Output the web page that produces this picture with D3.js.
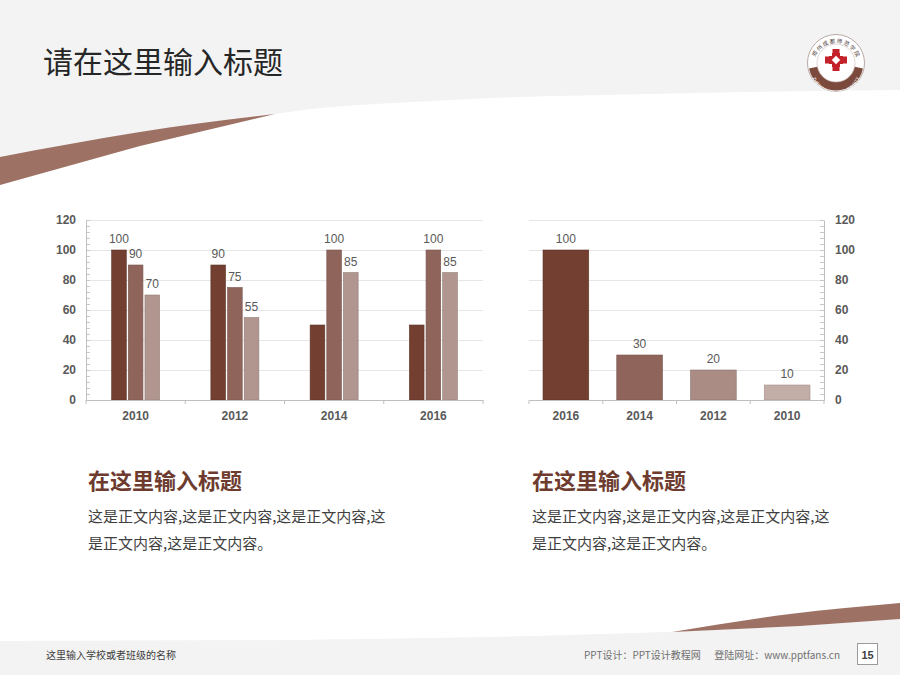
<!DOCTYPE html>
<html>
<head>
<meta charset="utf-8">
<script src="https://cdn.jsdelivr.net/npm/d3@7"></script>
<style>
  body { margin: 0; background: #fff; }
  svg { display: block; }
  text { font-family: "Liberation Sans", Arial, sans-serif; }
  .cjk { font-family: "Noto Sans CJK SC", "Noto Sans", sans-serif; }
</style>
</head>
<body>
<div id="chart"></div>
<script>
// Data
const leftCats = ['2010', '2012', '2014', '2016'];
const seriesA = [100, 90, 50, 50];
const seriesB = [90, 75, 100, 100];
const seriesC = [70, 55, 85, 85];
// which values get a data label (series A has none on 2014 / 2016)
const labelsA = ['100', '90', '', ''];
const labelsB = ['90', '75', '100', '100'];
const labelsC = ['70', '55', '85', '85'];

const rightCats = ['2016', '2014', '2012', '2010'];
const rightVals = [100, 30, 20, 10];

const yTicks = [0, 20, 40, 60, 80, 100, 120];
const yMinor = d3.range(0, 121, 4);

const seriesColors = ['#723f31', '#8f655b', '#b0968e'];
const rightColors = ['#723f31', '#8f655b', '#aa8c84', '#c3ada7'];

const W = 900, H = 675;

const svg = d3.select('#chart')
  .append('svg')
  .attr('width', W)
  .attr('height', H);

// Background: grey page with white body cut out by curves
svg.append('rect').attr('width', W).attr('height', H).attr('fill', '#f3f3f3');

const curve = d3.line().curve(d3.curveMonotoneX);
const topEdge = [[0, 185], [140, 146], [275, 114], [450, 100], [650, 94], [900, 90]];
const botEdge = [[0, 641], [300, 640], [500, 637], [673, 632], [800, 626], [900, 619]];

svg.append('path')
  .attr('d', curve(topEdge) + 'L' + botEdge.slice().reverse().map(p => p.join(',')).join('L') + 'Z')
  .attr('fill', '#ffffff');
// redraw the lower edge smoothly
svg.append('path')
  .attr('d', curve(botEdge) + 'L900,675L0,675Z')
  .attr('fill', '#f3f3f3');

// top swoosh
const swTop = [[0, 157], [140, 132], [275, 114]];
const swBot = [[0, 185], [140, 146], [275, 114]];
svg.append('path')
  .attr('d', curve(swTop) + 'L' + swBot.slice().reverse().map(p => p.join(',')).join('L') + 'Z')
  .attr('fill', '#9d7265');

// bottom swoosh
const sbTop = [[672, 632], [790, 614], [900, 603]];
svg.append('path')
  .attr('d', curve(sbTop) + 'L900,619' + 'L800,626L672,632Z')
  .attr('fill', '#9d7265');

// Header title
svg.append('text')
  .attr('class', 'cjk')
  .attr('x', 43).attr('y', 73)
  .attr('font-size', 30)
  .attr('fill', '#262626')
  .text('请在这里输入标题');

// Logo
const logo = svg.append('g').attr('transform', 'translate(836,63)');
logo.append('circle').attr('r', 28.5).attr('fill', '#fff').attr('stroke', '#b9aaa4').attr('stroke-width', 1);
logo.append('path')
  .attr('d', d3.arc().innerRadius(19).outerRadius(27.5).startAngle(Math.PI / 2 + 0.2).endAngle(3 * Math.PI / 2 - 0.2)())
  .attr('fill', '#7b4a3d');
logo.append('circle').attr('r', 19).attr('fill', 'none').attr('stroke', '#c9bbb6').attr('stroke-width', 0.6);
logo.append('path').attr('id', 'logoArc')
  .attr('d', 'M-22,2 A22,22 0 0,1 22,2').attr('fill', 'none');
logo.append('text').attr('class', 'cjk').attr('font-size', 5.5).attr('fill', '#4a3a36')
  .append('textPath').attr('href', '#logoArc').attr('startOffset', '50%').attr('text-anchor', 'middle')
  .text('郑 州 成 都 师 范 学 院');
logo.append('path').attr('id', 'logoArc2')
  .attr('d', 'M-23.5,6 A23.5,23.5 0 0,0 23.5,6').attr('fill', 'none');
logo.append('text').attr('font-size', 4.5).attr('fill', '#fff').attr('dy', 1.6)
  .append('textPath').attr('href', '#logoArc2').attr('startOffset', '50%').attr('text-anchor', 'middle')
  .text('ZHENGZHOU UNIVERSITY');
const cross = logo.append('g').attr('transform', 'translate(0,-3)').attr('fill', '#c4222b');
cross.append('rect').attr('x', -3.5).attr('y', -11).attr('width', 7).attr('height', 22);
cross.append('rect').attr('x', -11).attr('y', -3.5).attr('width', 22).attr('height', 7);
cross.append('rect').attr('x', -7).attr('y', -7).attr('width', 14).attr('height', 14);
cross.append('rect').attr('x', -3).attr('y', -3).attr('width', 6).attr('height', 6)
  .attr('transform', 'rotate(45)').attr('fill', '#fff');
[[-1, -1], [1, -1], [-1, 1], [1, 1]].forEach(([sx, sy]) => {
  cross.append('rect').attr('x', sx > 0 ? 4 : -7).attr('y', sy > 0 ? 4 : -7)
    .attr('width', 3).attr('height', 3).attr('fill', '#fff');
});

// ---------- Left chart ----------
const L = { left: 86, right: 483, top: 220, bottom: 400 };

const y = d3.scaleLinear().domain([0, 120]).range([L.bottom, L.top]);

const x0 = d3.scaleBand().domain(leftCats).range([L.left, L.right]).padding(0);
const groupW = 48;
const x1 = d3.scaleBand().domain([0, 1, 2]).range([0, groupW]).paddingInner(0.12);

const left = svg.append('g');

// gridlines
left.append('g')
  .attr('transform', `translate(${L.left},0)`)
  .call(d3.axisRight(y).tickValues(yTicks.slice(1)).tickSize(L.right - L.left).tickFormat(''))
  .call(g => g.select('.domain').remove())
  .call(g => g.selectAll('line').attr('stroke', '#e6e6e6'));

// minor ticks
left.append('g')
  .attr('transform', `translate(${L.left},0)`)
  .call(d3.axisRight(y).tickValues(yMinor).tickSize(4).tickFormat(''))
  .call(g => g.select('.domain').remove())
  .call(g => g.selectAll('line').attr('stroke', '#c8c8c8'));

// y axis
left.append('g')
  .attr('transform', `translate(${L.left},0)`)
  .call(d3.axisLeft(y).tickValues(yTicks).tickSize(0).tickPadding(10))
  .call(g => g.select('.domain').attr('stroke', '#bfbfbf'))
  .call(g => g.selectAll('text')
    .attr('font-family', '"Liberation Sans", Arial, sans-serif')
    .attr('font-size', 12).attr('font-weight', 'bold').attr('fill', '#595959'));

const seriesList = [seriesA, seriesB, seriesC];
const labelList = [labelsA, labelsB, labelsC];

seriesList.forEach((vals, si) => {
  const offset = cat => x0(cat) + (x0.bandwidth() - groupW) / 2 + x1(si);
  left.append('g').selectAll('rect')
    .data(vals)
    .enter()
    .append('rect')
    .attr('x', (d, i) => offset(leftCats[i]))
    .attr('y', d => y(d))
    .attr('width', x1.bandwidth())
    .attr('height', d => L.bottom - y(d))
    .attr('fill', seriesColors[si])
    .attr('stroke', d3.color(seriesColors[si]).darker(0.5))
    .attr('stroke-width', 0.6);

  left.append('g').selectAll('text')
    .data(vals)
    .enter()
    .append('text')
    .text((d, i) => labelList[si][i])
    .attr('x', (d, i) => offset(leftCats[i]) + x1.bandwidth() / 2)
    .attr('y', d => y(d) - 7)
    .attr('text-anchor', 'middle')
    .attr('font-size', 12)
    .attr('fill', '#595959');
});

// x axis
left.append('g')
  .attr('transform', `translate(0,${L.bottom})`)
  .call(d3.axisBottom(x0).tickSize(0).tickPadding(11))
  .call(g => g.select('.domain').attr('stroke', '#bfbfbf'))
  .call(g => g.selectAll('text')
    .attr('font-family', '"Liberation Sans", Arial, sans-serif')
    .attr('font-size', 12).attr('font-weight', 'bold').attr('fill', '#595959'));
left.append('g').selectAll('line')
  .data(leftCats.concat(['end']))
  .enter()
  .append('line')
  .attr('x1', (d, i) => L.left + i * x0.step())
  .attr('x2', (d, i) => L.left + i * x0.step())
  .attr('y1', L.bottom).attr('y2', L.bottom + 4)
  .attr('stroke', '#bfbfbf');

// ---------- Right chart ----------
const R = { left: 529, right: 824, top: 220, bottom: 400 };
const xr = d3.scaleBand().domain(rightCats).range([R.left, R.right]).padding(0);
const barW = xr.bandwidth() * 0.62;
const right = svg.append('g');

right.append('g')
  .attr('transform', `translate(${R.left},0)`)
  .call(d3.axisRight(y).tickValues(yTicks.slice(1)).tickSize(R.right - R.left).tickFormat(''))
  .call(g => g.select('.domain').remove())
  .call(g => g.selectAll('line').attr('stroke', '#e6e6e6'));

right.append('g')
  .attr('transform', `translate(${R.right},0)`)
  .call(d3.axisLeft(y).tickValues(yMinor).tickSize(4).tickFormat(''))
  .call(g => g.select('.domain').remove())
  .call(g => g.selectAll('line').attr('stroke', '#c8c8c8'));

right.append('g')
  .attr('transform', `translate(${R.right},0)`)
  .call(d3.axisRight(y).tickValues(yTicks).tickSize(0).tickPadding(11))
  .call(g => g.select('.domain').attr('stroke', '#bfbfbf'))
  .call(g => g.selectAll('text')
    .attr('font-family', '"Liberation Sans", Arial, sans-serif')
    .attr('font-size', 12).attr('font-weight', 'bold').attr('fill', '#595959'));

right.append('g').selectAll('rect')
  .data(rightVals)
  .enter()
  .append('rect')
  .attr('x', (d, i) => xr(rightCats[i]) + (xr.bandwidth() - barW) / 2)
  .attr('y', d => y(d))
  .attr('width', barW)
  .attr('height', d => R.bottom - y(d))
  .attr('fill', (d, i) => rightColors[i])
  .attr('stroke', (d, i) => d3.color(rightColors[i]).darker(0.5))
  .attr('stroke-width', 0.6);

right.append('g').selectAll('text')
  .data(rightVals)
  .enter()
  .append('text')
  .text(d => d)
  .attr('x', (d, i) => xr(rightCats[i]) + xr.bandwidth() / 2)
  .attr('y', d => y(d) - 7)
  .attr('text-anchor', 'middle')
  .attr('font-size', 12)
  .attr('fill', '#595959');

right.append('g')
  .attr('transform', `translate(0,${R.bottom})`)
  .call(d3.axisBottom(xr).tickSize(0).tickPadding(11))
  .call(g => g.select('.domain').attr('stroke', '#bfbfbf'))
  .call(g => g.selectAll('text')
    .attr('font-family', '"Liberation Sans", Arial, sans-serif')
    .attr('font-size', 12).attr('font-weight', 'bold').attr('fill', '#595959'));
right.append('g').selectAll('line')
  .data(rightCats.concat(['end']))
  .enter()
  .append('line')
  .attr('x1', (d, i) => R.left + i * xr.step())
  .attr('x2', (d, i) => R.left + i * xr.step())
  .attr('y1', R.bottom).attr('y2', R.bottom + 4)
  .attr('stroke', '#bfbfbf');

// ---------- Text blocks ----------
[88, 532].forEach(x => {
  svg.append('text').attr('class', 'cjk')
    .attr('x', x).attr('y', 489)
    .attr('font-size', 22).attr('font-weight', 'bold')
    .attr('fill', '#6e3b2f')
    .text('在这里输入标题');
  svg.append('text').attr('class', 'cjk')
    .attr('x', x).attr('y', 522)
    .attr('font-size', 15).attr('fill', '#3f3f3f')
    .text('这是正文内容,这是正文内容,这是正文内容,这');
  svg.append('text').attr('class', 'cjk')
    .attr('x', x).attr('y', 549)
    .attr('font-size', 15).attr('fill', '#3f3f3f')
    .text('是正文内容,这是正文内容。');
});

// ---------- Footer ----------
svg.append('text').attr('class', 'cjk')
  .attr('x', 46).attr('y', 659)
  .attr('font-size', 10).attr('fill', '#404040')
  .text('这里输入学校或者班级的名称');
svg.append('text').attr('class', 'cjk')
  .attr('x', 584).attr('y', 659)
  .attr('font-size', 10).attr('fill', '#707070')
  .text('PPT设计：PPT设计教程网');
svg.append('text').attr('class', 'cjk')
  .attr('x', 840).attr('y', 659)
  .attr('text-anchor', 'end')
  .attr('font-size', 10).attr('fill', '#707070')
  .text('登陆网址：www.pptfans.cn');
svg.append('rect')
  .attr('x', 857.5).attr('y', 643.5).attr('width', 20).attr('height', 21)
  .attr('fill', '#fff').attr('stroke', '#9a9a9a');
svg.append('text')
  .attr('x', 867.5).attr('y', 658.5)
  .attr('text-anchor', 'middle')
  .attr('font-size', 11).attr('font-weight', 'bold').attr('fill', '#404040')
  .text('15');
</script>
</body>
</html>
